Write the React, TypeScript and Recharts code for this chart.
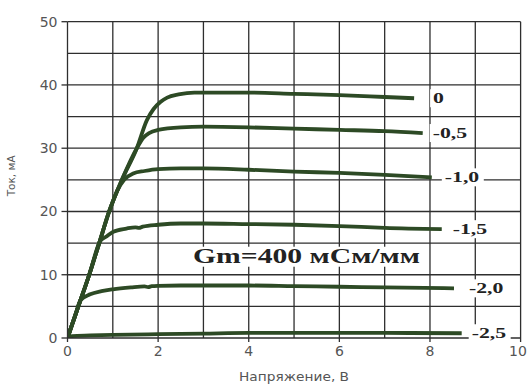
import React from 'react';
import { LineChart, Line, XAxis, YAxis, CartesianGrid, ReferenceDot, Label } from 'recharts';

// Drain current (mA) vs. voltage (V) for gate voltages
const gateLabels = ['0', '-0,5', '-1,0', '-1,5', '-2,0', '-2,5'];

const v0 = [0, 0.24, 0.48, 0.7, 0.92, 1.2, 1.53, 1.75, 1.9, 2.05, 2.2, 2.45, 2.8, 3.2, 4.0, 5.0, 6.0, 7.0, 7.65];
const i0 = [0, 5, 10, 15, 20, 25, 30, 34.4, 36.2, 37.3, 38.0, 38.5, 38.8, 38.8, 38.8, 38.6, 38.4, 38.1, 37.9];

const v05 = [0, 0.24, 0.48, 0.7, 0.92, 1.2, 1.53, 1.68, 1.8, 2.0, 2.5, 3.0, 4.0, 5.0, 6.0, 7.0, 7.84];
const i05 = [0, 5, 10, 15, 20, 25, 30, 31.7, 32.4, 32.9, 33.3, 33.4, 33.3, 33.1, 32.9, 32.7, 32.4];

const v10 = [0, 0.24, 0.48, 0.7, 0.92, 1.1, 1.25, 1.45, 1.7, 2.0, 2.5, 3.0, 4.0, 5.0, 6.0, 7.0, 8.04];
const i10 = [0, 5, 10, 15, 20, 23.3, 25.0, 26.0, 26.4, 26.7, 26.8, 26.8, 26.6, 26.3, 26.1, 25.8, 25.4];

const v15 = [0, 0.24, 0.48, 0.72, 0.85, 1.01, 1.3, 1.5, 1.58, 1.66, 2.0, 2.5, 3.0, 4.0, 5.0, 6.0, 7.0, 8.26];
const i15 = [0, 5, 10, 15.3, 16.0, 16.8, 17.3, 17.5, 17.4, 17.6, 17.9, 18.1, 18.1, 18.0, 17.9, 17.7, 17.4, 17.2];

const v20 = [0, 0.15, 0.29, 0.5, 0.75, 1.0, 1.4, 1.7, 1.78, 1.86, 2.0, 2.5, 3.0, 4.0, 5.0, 6.0, 7.0, 8.53];
const i20 = [0, 3.1, 6.0, 6.9, 7.4, 7.7, 8.0, 8.15, 8.05, 8.2, 8.25, 8.3, 8.3, 8.3, 8.2, 8.1, 8.0, 7.85];

const v25 = [0, 0.1, 0.5, 1.0, 2.0, 3.0, 4.0, 5.0, 6.0, 7.0, 8.7];
const i25 = [0, 0.3, 0.4, 0.5, 0.6, 0.7, 0.8, 0.8, 0.8, 0.8, 0.75];

const xTicks = [0, 2, 4, 6, 8, 10];
const yTicks = [0, 10, 20, 30, 40, 50];
const xGridValues = [1, 2, 3, 4, 5, 6, 7, 8, 9, 10];
const yGridValues = [5, 10, 15, 20, 25, 30, 35, 40, 45, 50];

const xTitle = 'Напряжение, В';
const yTitle = 'Ток, мА';
const annotationText = 'Gm=400 мСм/мм';
const annotationX = 2.77;
const annotationY = 11.9;

const zip = (vs: number[], is: number[]) => vs.map((V, k) => ({ V, I: is[k] }));

const seriesData = [
  zip(v0, i0),
  zip(v05, i05),
  zip(v10, i10),
  zip(v15, i15),
  zip(v20, i20),
  zip(v25, i25),
];

const labelGaps = [19, 10, 13, 11, 15, 10];

const CURVE = '#2d4a25';
const GRID = '#2e2e2e';
const TICK_TEXT = '#555';

function CurveLabel(props: any) {
  const { cx, cy, text, gap } = props;
  if (cx == null || cy == null) return null;
  const w = text.length * 9 + 6;
  return (
    <g transform={`translate(${cx + gap},${cy})`}>
      <rect x={-3} y={-9} width={w} height={18} fill="#fff" />
      <text
        transform="scale(1.45,1)"
        x={0}
        y={5}
        fontFamily="'Liberation Serif', serif"
        fontWeight="bold"
        fontSize={15}
        fill="#222"
      >
        {text}
      </text>
    </g>
  );
}

function Annotation(props: any) {
  const { cx, cy } = props;
  if (cx == null || cy == null) return null;
  return (
    <g>
      <rect x={cx - 3} y={cy - 16} width={233} height={20} fill="#fff" />
      <text
        x={cx}
        y={cy}
        textLength={227}
        lengthAdjust="spacingAndGlyphs"
        fontFamily="'Liberation Serif', serif"
        fontWeight="bold"
        fontSize={20}
        fill="#222"
      >
        {annotationText}
      </text>
    </g>
  );
}

function XTick(props: any) {
  const { x, y, payload } = props;
  const last = payload.value === xTicks[xTicks.length - 1];
  return (
    <text
      x={x + (last ? -2 : 0)}
      y={y}
      dy="0.8em"
      textAnchor="middle"
      fill={TICK_TEXT}
      fontSize={14}
      fontFamily="'DejaVu Sans', sans-serif"
    >
      {payload.value}
    </text>
  );
}

export default function App() {
  return (
    <div style={{ position: 'absolute', left: 0, top: 0, width: 528, height: 385, background: '#fff' }}>
      <LineChart width={528} height={385} margin={{ top: 21.7, right: 7.4, left: 0, bottom: 0 }}>
        <CartesianGrid
          stroke={GRID}
          strokeWidth={1.3}
          verticalValues={xGridValues}
          horizontalValues={yGridValues}
        />
        <XAxis
          type="number"
          dataKey="V"
          domain={[0, 10]}
          ticks={xTicks}
          allowDataOverflow
          height={47}
          tickSize={4}
          tickMargin={3}
          stroke={GRID}
          strokeWidth={1.3}
          tick={<XTick />}
        >
          <Label
            content={(p: any) => {
              const vb = p.viewBox || {};
              return (
                <text
                  x={vb.x + vb.width / 2 - 55}
                  y={vb.y + 43}
                  textLength={110}
                  lengthAdjust="spacingAndGlyphs"
                  fontSize={11.5}
                  fontFamily="'DejaVu Sans', sans-serif"
                  fill={TICK_TEXT}
                >
                  {xTitle}
                </text>
              );
            }}
          />
        </XAxis>
        <YAxis
          type="number"
          domain={[0, 50]}
          ticks={yTicks}
          allowDataOverflow
          width={67.5}
          tickSize={6}
          tickMargin={4}
          stroke={GRID}
          strokeWidth={1.3}
          tick={{ fill: TICK_TEXT, fontSize: 14, fontFamily: "'DejaVu Sans', sans-serif" }}
        >
          <Label
            content={(p: any) => {
              const vb = p.viewBox || {};
              const x = vb.x + 15;
              const y = vb.y + vb.height / 2 - 4;
              return (
                <text
                  x={x}
                  y={y}
                  transform={`rotate(-90,${x},${y})`}
                  textAnchor="middle"
                  fontSize={10.5}
                  fontFamily="'DejaVu Sans', sans-serif"
                  fill={TICK_TEXT}
                >
                  {yTitle}
                </text>
              );
            }}
          />
        </YAxis>
        {seriesData.map((d, k) => (
          <Line
            key={gateLabels[k]}
            data={d}
            dataKey="I"
            type="monotone"
            stroke={CURVE}
            strokeWidth={3.8}
            dot={false}
            activeDot={false}
            isAnimationActive={false}
          />
        ))}
        {seriesData.map((d, k) => {
          const last = d[d.length - 1];
          return (
            <ReferenceDot
              key={'lbl' + k}
              x={last.V}
              y={last.I}
              r={1}
              ifOverflow="visible"
              shape={(p: any) => <CurveLabel {...p} text={gateLabels[k]} gap={labelGaps[k]} />}
            />
          );
        })}
        <ReferenceDot
          x={annotationX}
          y={annotationY}
          r={1}
          ifOverflow="visible"
          shape={(p: any) => <Annotation {...p} />}
        />
      </LineChart>
    </div>
  );
}
